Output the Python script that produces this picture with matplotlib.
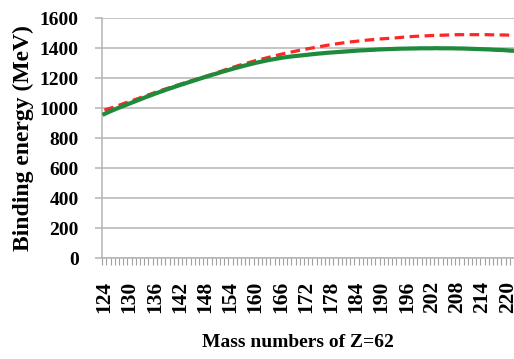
import matplotlib
matplotlib.use("Agg")
import matplotlib.pyplot as plt
import numpy as np

mass_numbers = list(range(124, 222))

green_values = [
    962, 975, 987, 999, 1010, 1021, 1032,
    1043, 1054, 1065, 1076, 1086, 1097,
    1107, 1117, 1127, 1136, 1146, 1155,
    1164, 1173, 1182, 1191, 1200, 1209,
    1217, 1226, 1234, 1243, 1251, 1259,
    1267, 1274, 1282, 1289, 1296, 1303,
    1309, 1315, 1321, 1326, 1331, 1336,
    1340, 1344, 1347, 1350, 1353, 1356,
    1359, 1362, 1365, 1367, 1370, 1372,
    1374, 1376, 1378, 1380, 1382, 1384,
    1386, 1387, 1389, 1390, 1392, 1393,
    1394, 1395, 1396, 1397, 1398, 1398,
    1399, 1399, 1400, 1400, 1400, 1400,
    1401, 1400, 1400, 1400, 1400, 1399,
    1399, 1398, 1397, 1396, 1395, 1394,
    1393, 1392, 1390, 1389, 1388, 1386,
    1384,
]

red_values = [
    988, 997, 1006, 1016, 1026, 1036, 1045,
    1055, 1065, 1075, 1085, 1095, 1105,
    1115, 1124, 1133, 1142, 1151, 1160,
    1169, 1178, 1186, 1195, 1203, 1212,
    1221, 1230, 1240, 1249, 1259, 1268,
    1277, 1286, 1294, 1302, 1310, 1318,
    1325, 1332, 1339, 1346, 1353, 1360,
    1366, 1372, 1378, 1384, 1390, 1395,
    1400, 1405, 1410, 1415, 1420, 1425,
    1429, 1433, 1437, 1441, 1444, 1447,
    1450, 1453, 1456, 1458, 1461, 1463,
    1465, 1467, 1469, 1471, 1474, 1476,
    1478, 1480, 1481, 1482, 1484, 1485,
    1486, 1487, 1488, 1489, 1490, 1491,
    1491, 1491, 1491, 1491, 1491, 1491,
    1491, 1490, 1490, 1489, 1489, 1488,
    1487,
]

y_ticks = [0, 200, 400, 600, 800, 1000, 1200, 1400, 1600]
label_step = 6

plt.rcParams['font.family'] = ['Liberation Serif', 'DejaVu Serif']

fig = plt.figure(figsize=(5.14, 3.59), dpi=100)
ax = fig.add_axes([0.199, 0.2805, 0.801, 0.6685])

idx = np.arange(len(mass_numbers))
ax.plot(idx, red_values, color='#ff2626', lw=2.3, ls=(0, (3.0, 1.7)), zorder=3)
ax.plot(idx, green_values, color='#1d8a3c', lw=3.0, zorder=4)

ax.set_xlim(-0.5, len(mass_numbers) - 0.5)
ax.set_ylim(0, 1600)
ax.set_yticks(y_ticks)
ax.set_yticklabels([str(v) for v in y_ticks], fontsize=14, fontweight='bold')
ax.yaxis.grid(True, color='#b4b4b4', lw=1.1)
ax.set_axisbelow(True)

major = idx[::label_step]
ax.set_xticks(major)
ax.set_xticklabels([str(mass_numbers[i]) for i in major], rotation=90,
                   fontsize=15.5, fontweight='bold')
ax.set_xticks(np.arange(-0.5, len(mass_numbers), 1.0), minor=True)
ax.tick_params(axis='x', which='major', length=0, pad=16)
ax.tick_params(axis='x', which='minor', length=5, color='#a0a0a0', width=0.8)
ax.tick_params(axis='y', length=5, color='#b4b4b4', width=1.1, pad=12)

for s in ['top', 'right']:
    ax.spines[s].set_visible(False)
for s in ['left', 'bottom']:
    ax.spines[s].set_color('#b4b4b4')
    ax.spines[s].set_linewidth(1.1)

ax.set_ylabel('Binding energy (MeV)', fontsize=17, fontweight='bold', labelpad=4)
ax.set_xlabel('Mass numbers of Z=62', fontsize=14, fontweight='bold', labelpad=18)
ax.xaxis.set_label_coords(0.476, -0.315)

fig.savefig('out.png', dpi=100)
